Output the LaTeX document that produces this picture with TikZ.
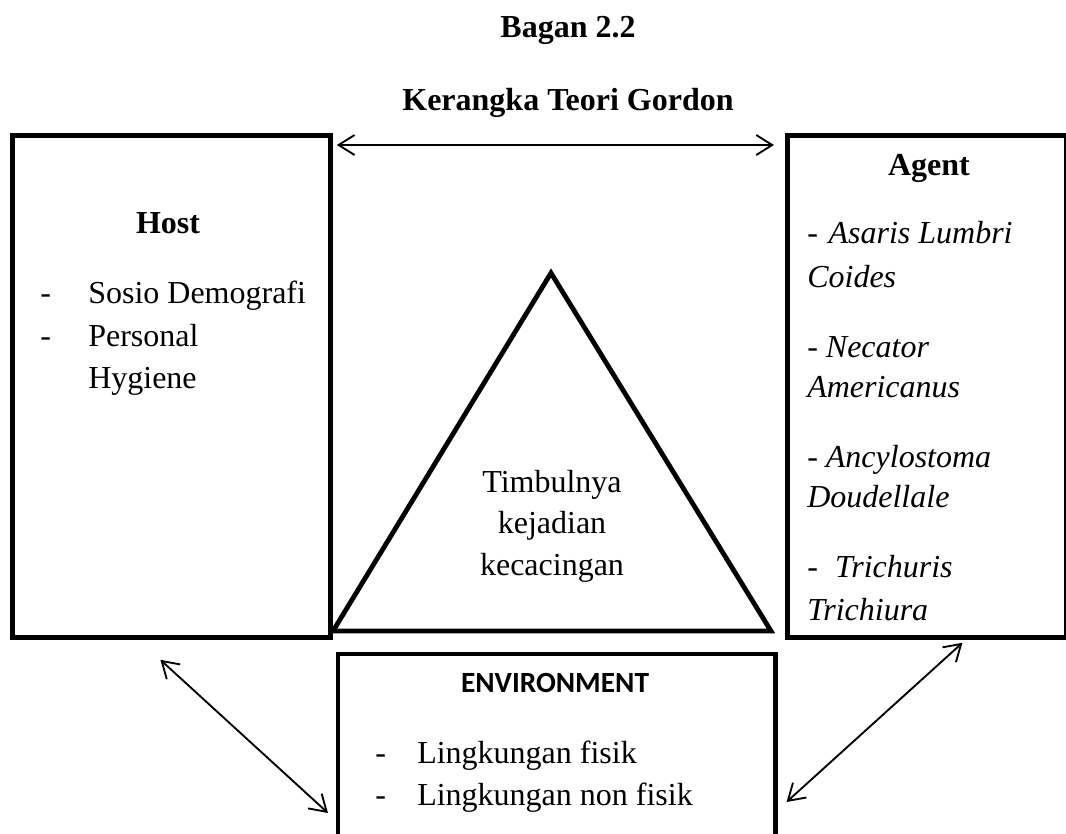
\documentclass[tikz,border=0pt]{standalone}
\usepackage{fontspec}
\setmainfont{Liberation Serif}
\newfontfamily\calibfont{Carlito}
\usetikzlibrary{arrows.meta,calc}
\begin{document}
\begin{tikzpicture}[x=0.75pt,y=-0.75pt,
  boxshape/.style={draw, line width=3.6pt, inner sep=0pt, anchor=north west},
  txt/.style={inner sep=0pt, font=\fontsize{24}{30}\selectfont},
  ttl/.style={inner sep=0pt, font=\fontsize{24}{30}\selectfont\bfseries, anchor=base},
  lft/.style={txt, anchor=base west},
  ctr/.style={txt, anchor=base},
  agt/.style={inner sep=0pt, anchor=base west, font=\fontsize{24}{30}\selectfont\itshape},
  envttl/.style={inner sep=0pt, anchor=base, font=\fontsize{22}{28}\calibfont\bfseries},
  dbl/.style={{Straight Barb[length=12pt,width=15pt]}-{Straight Barb[length=12pt,width=15pt]}, line width=1.4pt},
]
\useasboundingbox (0,0) rectangle (1066,833);
\fill[white] (0,0) rectangle (1066,833);

% titles
\node[ttl] (t1) at (568,37) {Bagan 2.2};
\node[ttl] (t2) at (568,110) {Kerangka Teori Gordon};

% boxes
\node[boxshape, minimum width=238.5pt, minimum height=376.5pt] (host) at (10,133) {};
\node[boxshape, minimum width=209.25pt, minimum height=376.5pt] (agent) at (785,133) {};
\node[inner sep=0pt, minimum width=327.75pt, minimum height=134.25pt, anchor=north west] (env) at (338,654) {};
\draw[line width=3.6pt] (env.south west) -- (env.north west) -- (env.north east) -- (env.south east);

% triangle
\coordinate (apex) at (551,273);
\coordinate (bl) at (333,631);
\coordinate (br) at (771,631);
\draw[line width=3.6pt, line join=miter] (bl) -- (apex) -- (br) -- cycle;
\node[ctr] (tr1) at (552,492) {Timbulnya};
\node[ctr] (tr2) at (552,533) {kejadian};
\node[ctr] (tr3) at (552,575) {kecacingan};

% host text
\node[ttl] (hostt) at (168,233) {Host};
\node[lft] (hd1) at (40,303) {-};
\node[lft] (h1) at (88,303) {Sosio Demografi};
\node[lft] (hd2) at (40,346) {-};
\node[lft] (h2) at (88,346) {Personal};
\node[lft] (h3) at (88,388) {Hygiene};

% agent text
\node[ttl] (agentt) at (929,175) {Agent};
\node[agt] (a1) at (807,243) {-\hspace{8pt}Asaris Lumbri};
\node[agt] (a2) at (807,287) {Coides};
\node[agt] (a3) at (807,357) {- Necator};
\node[agt] (a4) at (807,397) {Americanus};
\node[agt] (a5) at (807,467) {- Ancylostoma};
\node[agt] (a6) at (807,507) {Doudellale};
\node[agt] (a7) at (807,577) {-\hspace{13pt}Trichuris};
\node[agt] (a8) at (807,620) {Trichiura};

% environment text
\node[envttl] (envt) at (555,692) {ENVIRONMENT};
\node[lft] (ed1) at (375,763) {-};
\node[lft] (e1) at (417,763) {Lingkungan fisik};
\node[lft] (ed2) at (375,805) {-};
\node[lft] (e2) at (417,805) {Lingkungan non fisik};

% connectors
\draw[dbl] ($(host.north east)+(4,12)$) -- ($(agent.north west)+(-11,12)$);
\draw[dbl] ($(host.south)+(-11,20)$) -- ($(env.north west)+(-10,159)$);
\draw[dbl] ($(agent.south)+(35.5,3)$) -- ($(env.north east)+(11,148)$);
\end{tikzpicture}
\end{document}
